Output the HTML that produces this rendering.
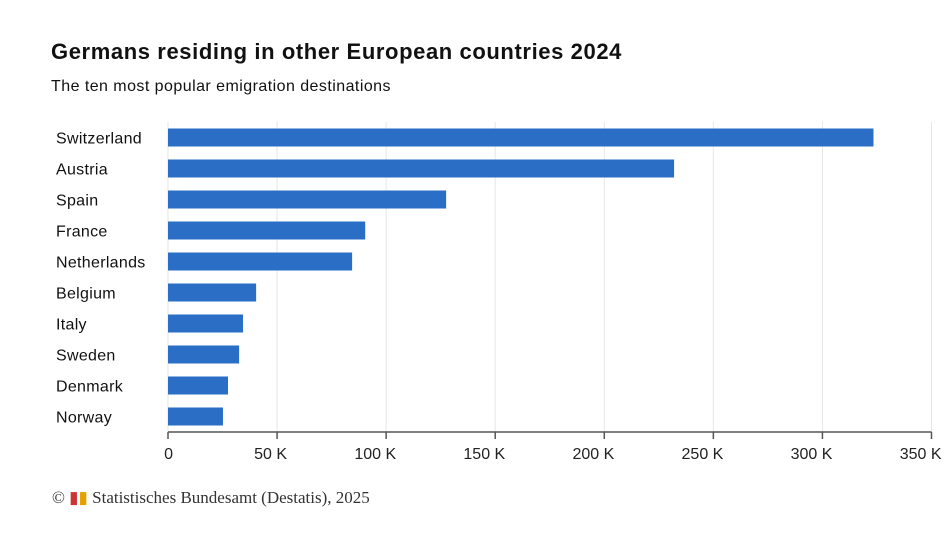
<!DOCTYPE html>
<html><head><meta charset="utf-8"><style>
body{margin:0;background:#fff;width:951px;height:543px;overflow:hidden;font-family:"Liberation Sans",sans-serif}
svg{position:absolute;left:0;top:0}
</style></head><body>
<svg width="951" height="543">
<text x="51" y="59" font-size="22" font-weight="bold" letter-spacing="0.6" fill="#111">Germans residing in other European countries 2024</text>
<text x="51" y="91" font-size="16" letter-spacing="0.45" fill="#111">The ten most popular emigration destinations</text>
<g id="grid"></g><g id="bars"></g><g id="labels"></g><g id="axis"></g>
<text x="52" y="503" font-size="17" fill="#333" font-family="Liberation Serif,serif">© <tspan fill="#c33">▮</tspan><tspan fill="#e8a000">▮</tspan> Statistisches Bundesamt (Destatis), 2025</text>
</svg>
<script>
const categories=["Switzerland","Austria","Spain","France","Netherlands","Belgium","Italy","Sweden","Denmark","Norway"];
const values=[323400,232000,127500,90400,84400,40400,34400,32600,27500,25200];
const ticks=[0,50000,100000,150000,200000,250000,300000,350000];
const tickLabels=["0","50 K","100 K","150 K","200 K","250 K","300 K","350 K"];
const NS="http://www.w3.org/2000/svg";
const x0=168,x1=931.5,xmax=350000,plotTop=122,plotBottom=432;
const xs=v=>x0+(x1-x0)*v/xmax;
const band=(plotBottom-plotTop)/categories.length;
const ys=i=>plotTop+band*i+band/2;
function mk(t,a,p){const e=document.createElementNS(NS,t);for(const k in a)e.setAttribute(k,a[k]);p.appendChild(e);return e;}
const G=document.getElementById('grid'),B=document.getElementById('bars'),L=document.getElementById('labels'),A=document.getElementById('axis');
ticks.forEach((t,i)=>{
 const g=mk('line',{x1:xs(t),x2:xs(t),y1:plotTop,y2:plotBottom,stroke:'#e6e6e6'},G);
 
 
 const tk=mk('line',{x1:xs(t),x2:xs(t),y1:plotBottom,y2:plotBottom+7,stroke:'#555','stroke-width':1.5},A);
 
 
 const tl=mk('text',{x:xs(t)+(t===0?5:10),y:plotBottom+27,'font-size':16,fill:'#222','text-anchor':'end'},A);
 tl.textContent=tickLabels[i];
 
 
});
const ax=mk('line',{x1:x0,x2:x1,y1:plotBottom,y2:plotBottom,stroke:'#555','stroke-width':1.5},A);


categories.forEach((c,i)=>{
 const r=mk('rect',{x:x0,y:ys(i)-9,width:xs(values[i])-x0,height:18,fill:'#2a6ec6'},B);
 
 
 const t=mk('text',{x:56,y:ys(i)+6,'font-size':16,'letter-spacing':0.3,fill:'#111'},L);
 t.textContent=c;
 
 
});
</script>
</body></html>
